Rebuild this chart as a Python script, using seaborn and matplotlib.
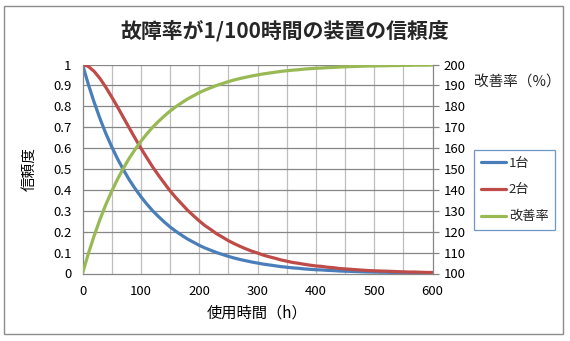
import matplotlib
matplotlib.use("Agg")
import matplotlib.pyplot as plt
import seaborn as sns
import pandas as pd
from matplotlib.patches import Rectangle
from matplotlib.lines import Line2D

sns.set_theme(style="white")
plt.rcParams['font.family'] = ['Noto Sans CJK JP', 'DejaVu Sans']

hours = list(range(0, 610, 10))
r_one = [1.000, 0.905, 0.819, 0.741, 0.670, 0.607, 0.549, 0.497, 0.449, 0.407,
         0.368, 0.333, 0.301, 0.273, 0.247, 0.223, 0.202, 0.183, 0.165, 0.150,
         0.135, 0.122, 0.111, 0.100, 0.091, 0.082, 0.074, 0.067, 0.061, 0.055,
         0.050, 0.045, 0.041, 0.037, 0.033, 0.030, 0.027, 0.025, 0.022, 0.020,
         0.018, 0.017, 0.015, 0.014, 0.012, 0.011, 0.010, 0.009, 0.008, 0.007,
         0.007, 0.006, 0.006, 0.005, 0.005, 0.004, 0.004, 0.003, 0.003, 0.003,
         0.002]
r_two = [1.000, 0.991, 0.967, 0.933, 0.891, 0.845, 0.797, 0.747, 0.697, 0.648,
         0.600, 0.555, 0.511, 0.471, 0.433, 0.396, 0.363, 0.333, 0.303, 0.277,
         0.252, 0.229, 0.210, 0.190, 0.174, 0.157, 0.143, 0.130, 0.118, 0.107,
         0.098, 0.088, 0.080, 0.073, 0.065, 0.059, 0.053, 0.049, 0.044, 0.040,
         0.036, 0.034, 0.030, 0.028, 0.024, 0.022, 0.020, 0.018, 0.016, 0.014,
         0.013, 0.012, 0.011, 0.010, 0.009, 0.008, 0.007, 0.007, 0.006, 0.005,
         0.005]
improve = [100.0, 109.5, 118.1, 125.9, 133.0, 139.3, 145.1, 150.3, 155.1, 159.3,
           163.2, 166.7, 169.9, 172.7, 175.3, 177.7, 179.8, 181.7, 183.5, 185.0,
           186.5, 187.8, 188.9, 190.0, 190.9, 191.8, 192.6, 193.3, 193.9, 194.5,
           195.0, 195.5, 195.9, 196.3, 196.7, 197.0, 197.3, 197.5, 197.8, 198.0,
           198.2, 198.3, 198.5, 198.6, 198.8, 198.9, 199.0, 199.1, 199.2, 199.3,
           199.3, 199.4, 199.4, 199.5, 199.5, 199.6, 199.6, 199.7, 199.7, 199.7,
           199.8]
series_names = ["1台", "2台", "改善率"]
colors = ["#4A7EBB", "#BE4B48", "#98B954"]
x_ticks = [0, 100, 200, 300, 400, 500, 600]
left_ticks = [0, 0.1, 0.2, 0.3, 0.4, 0.5, 0.6, 0.7, 0.8, 0.9, 1]
left_labels = ["0", "0.1", "0.2", "0.3", "0.4", "0.5", "0.6", "0.7", "0.8", "0.9", "1"]
right_ticks = list(range(100, 210, 10))

df = pd.DataFrame({"h": hours, "1台": r_one, "2台": r_two, "改善率": improve})

W, H = 570, 341
fig = plt.figure(figsize=(W / 100, H / 100), dpi=100)
fig.patch.set_facecolor("white")
fig.patches.append(Rectangle((4 / W, 1 - 334 / H), 559 / W, 328 / H, transform=fig.transFigure,
                             fill=False, edgecolor="#8C8C8C", linewidth=1.0))

x0, x1, yt, yb = 82.5, 432.5, 64.5, 273.5
ax = fig.add_axes([x0 / W, 1 - yb / H, (x1 - x0) / W, (yb - yt) / H])
ax.set_facecolor("none")

sns.lineplot(data=df, x="h", y="1台", ax=ax, color=colors[0], linewidth=2.3)
sns.lineplot(data=df, x="h", y="2台", ax=ax, color=colors[1], linewidth=2.3)
ax.set_xlim(0, 600)
ax.set_ylim(0, 1)
ax.set_xticks(x_ticks)
ax.set_yticks(left_ticks)
ax.set_yticklabels(left_labels)
ax.grid(False)
for v in range(50, 600, 50):
    ax.axvline(v, color="#BFBFBF", linewidth=0.9, zorder=0)
for v in left_ticks[1:]:
    ax.axhline(v, color="#868686", linewidth=0.9, zorder=0.5)
ax.tick_params(axis="both", which="both", length=0, labelsize=9.5, colors="#000000")
ax.tick_params(axis="x", pad=8)
ax.tick_params(axis="y", pad=8)
for s in ["left", "bottom"]:
    ax.spines[s].set_color("#868686")
    ax.spines[s].set_linewidth(0.9)
ax.spines["top"].set_visible(False)
ax.spines["right"].set_visible(False)
ax.set_xlabel("使用時間（h）", fontsize=11, labelpad=5, color="#000000")
ax.set_ylabel("信頼度", fontsize=10.5, labelpad=12, color="#000000")

ax2 = ax.twinx()
sns.lineplot(data=df, x="h", y="改善率", ax=ax2, color=colors[2], linewidth=2.3)
ax2.set_ylim(100, 200)
ax2.set_yticks(right_ticks)
ax2.set_ylabel("")
ax2.set_xlabel("")
ax2.grid(False)
ax2.tick_params(axis="y", length=4, width=0.9, labelsize=9.5, pad=4, colors="#000000")
ax2.tick_params(axis="y", color="#868686")
for s in ["left", "top", "bottom"]:
    ax2.spines[s].set_visible(False)
ax2.spines["right"].set_color("#868686")
ax2.spines["right"].set_linewidth(0.9)

fig.text(285 / W, 1 - 31 / H, "故障率が1/100時間の装置の信頼度", ha="center", va="center",
         fontsize=15, fontweight="bold")
fig.text(474 / W, 1 - 83 / H, "改善率（%）", ha="left", va="center", fontsize=10.5)

handles = [Line2D([0], [0], color=c, linewidth=2.3) for c in colors]
leg = fig.legend(handles, series_names, loc="upper left",
                 bbox_to_anchor=(474 / W, 1 - 150 / H), frameon=True, fancybox=False,
                 fontsize=9.5, handlelength=1.9, handletextpad=0.25, labelspacing=1.05,
                 borderpad=0.5, borderaxespad=0)
leg.get_frame().set_edgecolor("#4A7EBB")
leg.get_frame().set_linewidth(0.9)

fig.savefig("out.png", dpi=100)
